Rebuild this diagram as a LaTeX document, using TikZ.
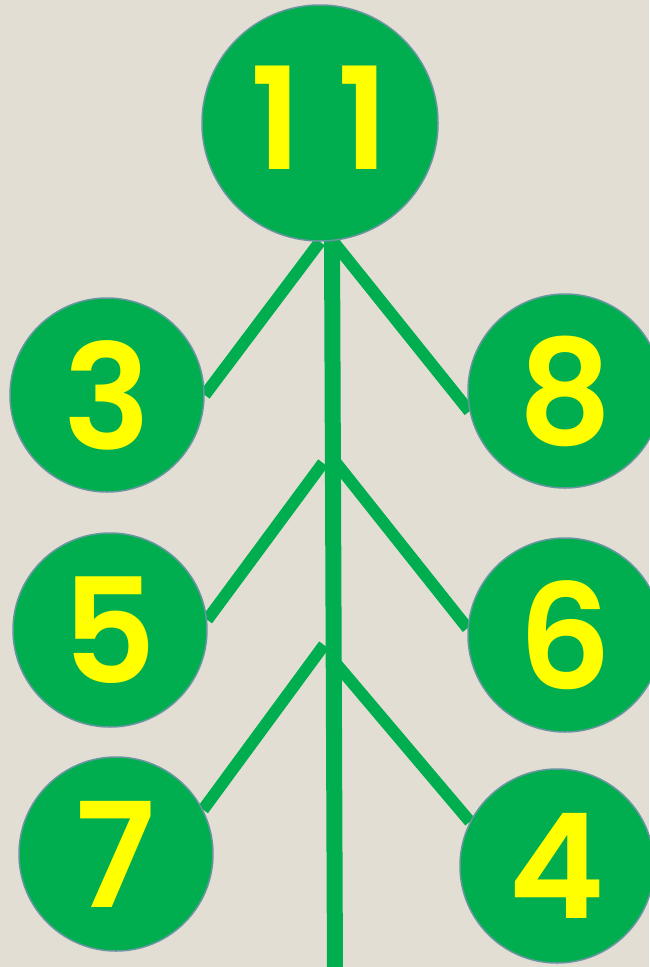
\documentclass[tikz,border=0pt]{standalone}
\usepackage{fontspec}
\newfontfamily\numfont{Poppins SemiBold}
\newfontfamily\widenumfont{Poppins SemiBold}[LetterSpace=25]
\usepackage{tikz}
\usetikzlibrary{calc}
\definecolor{paper}{RGB}{227,222,211}
\definecolor{leaf}{RGB}{0,174,80}
\definecolor{rim}{RGB}{104,150,160}
\definecolor{digit}{RGB}{255,255,0}
\pgfdeclarelayer{back}
\pgfsetlayers{back,main}
\tikzstyle{ball} = [circle, fill=leaf, draw=rim, line width=1.5pt, minimum size=194pt, inner sep=0pt, text=digit, font=\numfont\fontsize{146}{146}\selectfont]
\tikzstyle{twig} = [leaf, line width=12pt]
\tikzstyle{trunk} = [leaf, line width=16pt]

\begin{document}
\begin{tikzpicture}[x=1pt,y=-1pt]
\begin{pgfonlayer}{back}
    \fill[paper] (0,0) rectangle (649,967);
\end{pgfonlayer}
\useasboundingbox (0,0) rectangle (649,967);

	\node[ball, minimum size=236pt, font=\widenumfont\fontsize{142}{142}\selectfont] (n11) at (320,123) {\raisebox{10pt}{11}};
	\node[ball] (n3) at (107,395) {3};
	\node[ball] (n8) at (565,391) {8};
	\node[ball] (n5) at (110,630) {5};
	\node[ball] (n6) at (565,635) {6};
	\node[ball] (n7) at (116,854) {7};
	\node[ball] (n4) at (557,866) {4};

	\coordinate (t0) at (332,240);
	\coordinate (t1) at (335,975);
	\coordinate (l2) at (323,463);
	\coordinate (r2) at (333,459);
	\coordinate (l3) at (324,645);
	\coordinate (r3) at (333,660);

\begin{pgfonlayer}{back}
    \draw[trunk] (t0) -- (t1);
    \draw[twig] (n11.south) -- (n3.east);
    \draw[twig] (t0) -- (n8.192);
    \draw[twig] (l2) -- (n5.6);
    \draw[twig] (r2) -- (n6.176);
    \draw[twig] (l3) -- (n7.27);
    \draw[twig] (r3) -- (n4.153);
\end{pgfonlayer}
\end{tikzpicture}
\end{document}
